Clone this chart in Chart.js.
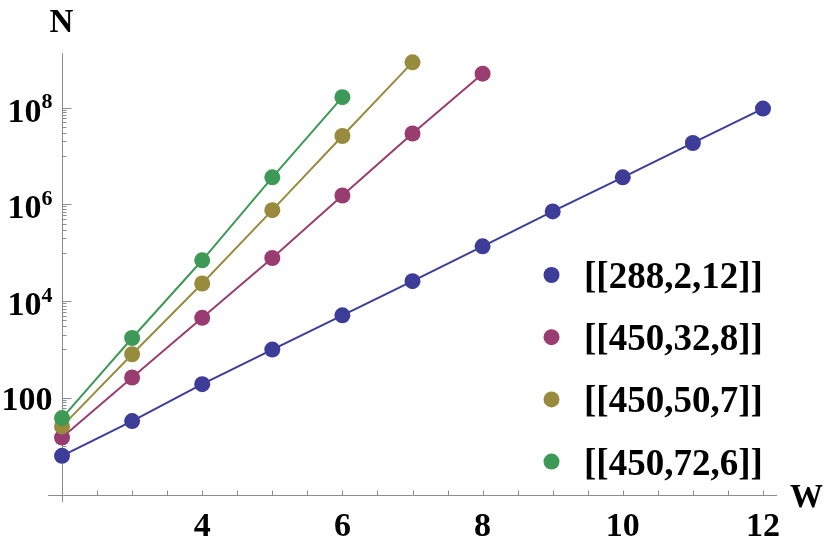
<!DOCTYPE html>
<html><head><meta charset="utf-8">
<script src="https://cdn.jsdelivr.net/npm/chart.js@4"></script>
<style>html,body{margin:0;padding:0;background:#fff;}canvas{display:block}</style>
</head><body>
<canvas id="c" width="830" height="545"></canvas>
<script>
// ---- data ----
const widths = [2, 3, 4, 5, 6, 7, 8, 9, 10, 11, 12];
const seriesLabels = ['[[288,2,12]]', '[[450,32,8]]', '[[450,50,7]]', '[[450,72,6]]'];
const n288 = [6.3, 33, 191, 990, 5050, 25700, 135000, 711000, 3.6e6, 1.85e7, 9.5e7];
const n450_32 = [15, 262, 4500, 77600, 1.52e6, 2.9e7, 5.0e8];
const n450_50 = [25.6, 794, 23000, 755000, 2.58e7, 8.6e8];
const n450_72 = [38, 1720, 69500, 3.6e6, 1.64e8];
const xTickLabels = ['4', '6', '8', '10', '12'];
const xTickValues = [4, 6, 8, 10, 12];
const yTickValues = [100, 1e4, 1e6, 1e8];
const yTickBase = ['100', '10', '10', '10'];
const yTickExp = ['', '4', '6', '8'];
const colors = ['#3d3d99', '#993d71', '#998b3d', '#3d9956'];
const allSeries = [n288, n450_32, n450_50, n450_72];

const FONT = "'Liberation Serif', 'Times New Roman', serif";

const axesPlugin = {
  id: 'mmaAxes',
  beforeDatasetsDraw(chart) {
    const {ctx, chartArea: ca, scales: {x, y}} = chart;
    const x0 = Math.round(x.getPixelForValue(2)) + 0.5;
    const y0 = Math.round(y.getPixelForValue(1)) + 0.5;
    ctx.save();
    ctx.strokeStyle = '#8c8c8c';
    ctx.lineWidth = 1;
    ctx.beginPath();
    ctx.moveTo(ca.left, y0); ctx.lineTo(ca.right, y0);
    ctx.moveTo(x0, ca.top); ctx.lineTo(x0, ca.bottom);
    ctx.stroke();
    // x ticks every 0.5
    ctx.beginPath();
    for (let v = 2.5; v <= 12.001; v += 0.5) {
      const px = Math.round(x.getPixelForValue(v)) + 0.5;
      ctx.moveTo(px, y0); ctx.lineTo(px, y0 - 5);
    }
    ctx.stroke();
    // y ticks
    ctx.beginPath();
    yTickValues.forEach(v => {
      const py = Math.round(y.getPixelForValue(v)) + 0.5;
      ctx.moveTo(x0, py); ctx.lineTo(x0 + 9, py);
    });
    [1, 3, 5, 7].forEach(e => {
      for (let m = 1; m <= 9; m++) {
        const py = Math.round(y.getPixelForValue(m * Math.pow(10, e))) + 0.5;
        ctx.moveTo(x0, py); ctx.lineTo(x0 + 4, py);
      }
    });
    ctx.stroke();
    // x labels
    ctx.fillStyle = '#000';
    ctx.font = 'bold 34px ' + FONT;
    ctx.textAlign = 'center';
    ctx.textBaseline = 'alphabetic';
    xTickValues.forEach((v, i) => {
      ctx.fillText(xTickLabels[i], x.getPixelForValue(v), y0 + 40);
    });
    // y labels
    const right = x0 - 10;
    yTickValues.forEach((v, i) => {
      const py = y.getPixelForValue(v);
      ctx.textAlign = 'right';
      if (!yTickExp[i]) {
        ctx.font = 'bold 34px ' + FONT;
        ctx.fillText(yTickBase[i], right, py + 12);
      } else {
        ctx.font = 'bold 22px ' + FONT;
        const ew = ctx.measureText(yTickExp[i]).width;
        ctx.fillText(yTickExp[i], right, py + 0.5);
        ctx.font = 'bold 34px ' + FONT;
        ctx.fillText(yTickBase[i], right - ew, py + 14);
      }
    });
    // axis titles
    ctx.font = 'bold 33px ' + FONT;
    ctx.textAlign = 'center';
    ctx.fillText('N', x0 - 1, 32);
    ctx.textAlign = 'left';
    ctx.fillText('W', ca.right + 13, y0 + 11);
    ctx.restore();
  },
  afterDraw(chart) {
    const {ctx} = chart;
    ctx.save();
    ctx.font = 'bold 37px ' + FONT;
    ctx.textAlign = 'left';
    ctx.textBaseline = 'alphabetic';
    chart.data.datasets.forEach((ds, i) => {
      const cy = 275 + i * 62.2;
      ctx.fillStyle = ds.borderColor;
      ctx.beginPath();
      ctx.arc(551.5, cy, 8, 0, Math.PI * 2);
      ctx.fill();
      ctx.fillStyle = '#000';
      ctx.fillText(ds.label, 584, cy + 13);
    });
    ctx.restore();
  }
};

const datasets = allSeries.map((arr, i) => ({
  label: seriesLabels[i],
  data: arr.map((v, j) => ({x: widths[j], y: v})),
  borderColor: colors[i],
  backgroundColor: colors[i],
  pointBackgroundColor: colors[i],
  pointBorderWidth: 0,
  pointRadius: 8,
  borderWidth: 2,
  tension: 0,
  order: 3 - i,
  clip: false
}));

new Chart(document.getElementById('c'), {
  type: 'line',
  data: {datasets},
  options: {
    responsive: false,
    animation: false,
    devicePixelRatio: 1,
    layout: {padding: {left: 48, right: 53, top: 53, bottom: 43}},
    plugins: {legend: {display: false}, tooltip: {enabled: false}},
    scales: {
      x: {type: 'linear', min: 1.8, max: 12.2, display: false},
      y: {type: 'logarithmic', min: 0.731, max: 1.34e9, display: false}
    }
  },
  plugins: [axesPlugin]
});
</script>
</body></html>
